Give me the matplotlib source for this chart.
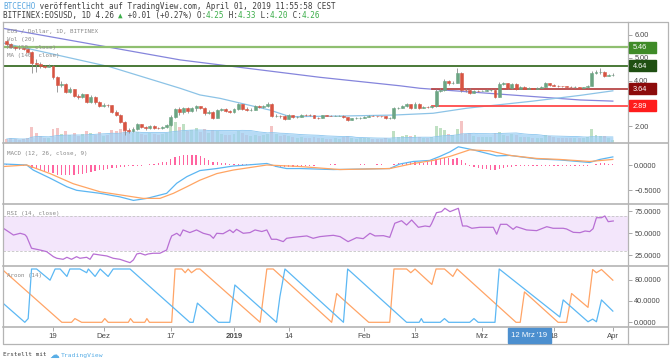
import numpy as np
import pandas as pd
import matplotlib
matplotlib.use('Agg')
import matplotlib.pyplot as plt
import matplotlib.dates as mdates
from matplotlib.patches import Rectangle
from matplotlib.transforms import blended_transform_factory

# ---------------- data ----------------
dates = pd.date_range('2018-11-08', '2019-04-01', freq='D')
open_first = 5.74
closes = [5.59, 5.45, 5.42, 5.40, 5.38, 5.26, 4.75, 4.72, 4.62, 4.61,
          4.64, 4.15, 3.82, 3.86, 3.51, 3.62, 3.33, 3.30, 3.40, 3.07,
          3.30, 3.05, 2.89, 2.93, 2.91, 2.64, 2.49, 2.20, 1.84, 1.78,
          1.90, 2.10, 1.98, 1.92, 2.02, 1.94, 1.93, 1.97, 2.04, 2.42,
          2.74, 2.62, 2.80, 2.68, 2.78, 2.88, 2.80, 2.56, 2.64, 2.38,
          2.72, 2.76, 2.66, 2.63, 2.77, 2.96, 2.76, 2.72, 2.73, 2.90,
          2.84, 2.87, 2.98, 2.46, 2.47, 2.44, 2.32, 2.48, 2.41, 2.42,
          2.51, 2.50, 2.48, 2.38, 2.37, 2.48, 2.47, 2.46, 2.47, 2.47,
          2.40, 2.29, 2.35, 2.36, 2.38, 2.40, 2.47, 2.46, 2.44, 2.43,
          2.36, 2.36, 2.79, 2.81, 2.88, 2.97, 2.80, 2.99, 2.80, 2.85,
          2.84, 2.89, 3.56, 3.60, 4.00, 3.88, 3.91, 4.34, 3.60, 3.58,
          3.47, 3.56, 3.55, 3.56, 3.58, 3.58, 3.30, 3.85, 3.89, 3.66,
          3.85, 3.64, 3.72, 3.64, 3.67, 3.65, 3.67, 3.72, 3.89, 3.81,
          3.78, 3.76, 3.75, 3.73, 3.70, 3.71, 3.69, 3.70, 3.76, 4.34,
          4.36, 4.38, 4.21, 4.25, 4.26]
highs = [5.80, 5.62, 5.50, 5.47, 5.44, 5.42, 5.30, 4.95, 4.80, 4.68,
         4.70, 4.66, 4.18, 3.98, 3.90, 3.70, 3.64, 3.40, 3.45, 3.42,
         3.36, 3.33, 3.10, 3.00, 2.98, 2.94, 2.70, 2.52, 2.25, 1.92,
         1.98, 2.16, 2.12, 2.00, 2.06, 2.04, 1.98, 2.00, 2.08, 2.48,
         2.80, 2.83, 2.86, 2.84, 2.86, 2.93, 2.90, 2.84, 2.70, 2.69,
         2.76, 2.82, 2.80, 2.72, 2.80, 3.02, 2.98, 2.84, 2.80, 2.94,
         2.94, 2.92, 3.08, 3.00, 2.52, 2.50, 2.48, 2.52, 2.50, 2.46,
         2.55, 2.54, 2.53, 2.50, 2.41, 2.51, 2.50, 2.49, 2.50, 2.50,
         2.49, 2.41, 2.38, 2.39, 2.41, 2.43, 2.50, 2.49, 2.47, 2.46,
         2.44, 2.39, 2.84, 2.86, 2.92, 3.02, 2.98, 3.04, 3.00, 2.89,
         2.90, 2.93, 3.62, 3.68, 4.06, 4.02, 3.98, 4.53, 4.36, 3.66,
         3.68, 3.60, 3.60, 3.60, 3.62, 3.62, 3.62, 3.92, 3.94, 3.90,
         3.88, 3.87, 3.76, 3.75, 3.70, 3.69, 3.70, 3.75, 3.94, 3.91,
         3.83, 3.80, 3.78, 3.77, 3.75, 3.74, 3.72, 3.73, 3.79, 4.40,
         4.48, 4.55, 4.42, 4.30, 4.33]
lows = [5.55, 5.40, 5.35, 5.36, 5.33, 5.22, 4.33, 4.38, 4.55, 4.56,
        4.58, 4.08, 3.51, 3.70, 3.45, 3.47, 3.28, 3.18, 3.22, 3.02,
        3.03, 2.98, 2.85, 2.86, 2.85, 2.60, 2.45, 2.15, 1.62, 1.70,
        1.74, 1.86, 1.92, 1.86, 1.88, 1.90, 1.88, 1.90, 1.94, 2.00,
        2.38, 2.50, 2.55, 2.60, 2.62, 2.66, 2.74, 2.50, 2.55, 2.33,
        2.35, 2.66, 2.62, 2.58, 2.60, 2.72, 2.72, 2.68, 2.68, 2.70,
        2.80, 2.82, 2.84, 2.42, 2.40, 2.38, 2.29, 2.30, 2.37, 2.38,
        2.40, 2.46, 2.45, 2.35, 2.33, 2.36, 2.44, 2.43, 2.44, 2.44,
        2.37, 2.25, 2.27, 2.32, 2.34, 2.36, 2.39, 2.43, 2.41, 2.40,
        2.33, 2.32, 2.34, 2.74, 2.78, 2.85, 2.77, 2.80, 2.76, 2.78,
        2.80, 2.82, 2.86, 3.50, 3.55, 3.82, 3.84, 3.88, 3.48, 3.50,
        3.42, 3.45, 3.51, 3.52, 3.53, 3.54, 3.22, 3.28, 3.82, 3.62,
        3.62, 3.60, 3.63, 3.61, 3.62, 3.62, 3.63, 3.66, 3.70, 3.78,
        3.75, 3.73, 3.72, 3.70, 3.68, 3.68, 3.66, 3.67, 3.68, 3.74,
        4.30, 4.30, 4.16, 4.18, 4.20]
volume = [4, 5, 4, 3, 4, 5, 16, 10, 7, 5,
          5, 14, 15, 9, 12, 8, 10, 7, 9, 12,
          10, 8, 11, 7, 8, 13, 12, 14, 20, 12,
          10, 11, 9, 8, 10, 9, 8, 9, 10, 22,
          21, 16, 19, 12, 13, 15, 11, 14, 10, 13,
          12, 9, 8, 8, 9, 12, 10, 8, 7, 8,
          7, 8, 9, 17, 9, 7, 8, 7, 6, 5,
          6, 5, 5, 6, 5, 5, 4, 4, 5, 4,
          6, 7, 5, 4, 5, 5, 5, 4, 4, 4,
          5, 4, 12, 6, 7, 8, 7, 8, 6, 5,
          5, 6, 17, 15, 13, 9, 8, 14, 22, 9,
          10, 7, 6, 6, 6, 6, 10, 11, 8, 7,
          9, 8, 6, 6, 6, 5, 5, 5, 8, 7,
          6, 5, 5, 5, 5, 5, 5, 5, 6, 14,
          8, 7, 7, 5, 3]

ma140_k = [-0.9, 41.2, 74.4, 93.4, 98.2, 136.2, 144]
ma140 = [6.28, 4.90, 4.14, 3.77, 3.66, 3.15, 3.10]
ma50_k = [-0.9, 24.5, 41.2, 45.9, 50.7, 62.5, 67.3, 80, 91.8, 101.3, 109.3, 125, 136.2, 144]
ma50 = [5.64, 4.60, 3.66, 3.37, 3.22, 2.71, 2.42, 2.45, 2.49, 2.57, 2.79, 3.10, 3.35, 3.55]

levels = [5.46, 4.64, 3.64, 2.89]
level_start_k = [None, None, 101, 101]

macd_k = [-0.8, 4.75, 6.3, 10.3, 14.3, 16.6, 22.2, 26.9, 30.1, 33.3, 38.0, 40.4, 42.8, 45.9,
          49.9, 53.8, 61.8, 64.1, 66.5, 69.7, 77.6, 91.0, 93.4, 96.6, 100.5, 102.9, 105.3,
          107.3, 110.8, 116.4, 119.5, 125.9, 131.4, 138.5, 140.9, 144]
macd = [0.02, 0.0, -0.10, -0.26, -0.43, -0.50, -0.56, -0.63, -0.70, -0.66, -0.56, -0.36, -0.23,
        -0.11, -0.07, -0.02, 0.03, -0.03, -0.07, -0.07, -0.09, -0.07, 0.02, 0.07, 0.09, 0.17,
        0.26, 0.36, 0.30, 0.18, 0.19, 0.12, 0.10, 0.05, 0.11, 0.16]
signal_k = [-0.8, 4.75, 10.3, 15.8, 22.2, 26.9, 32.4, 36.4, 39.6, 42.8, 45.9, 49.9, 53.8, 61.8,
            69.7, 79.2, 91.0, 96.6, 101.3, 105.3, 110.0, 114.8, 119.5, 125.9, 131.4, 138.5, 144]
signal = [-0.03, 0.0, -0.17, -0.37, -0.53, -0.59, -0.66, -0.66, -0.56, -0.43, -0.30, -0.17,
          -0.10, 0.0, -0.03, -0.09, -0.07, 0.03, 0.09, 0.17, 0.30, 0.28, 0.19, 0.13, 0.11,
          0.07, 0.11]
hist = [0.01, 0.01, 0.0, 0.0, -0.01, -0.02,
        -0.066, -0.08, -0.10, -0.12, -0.14, -0.165, -0.19, -0.20, -0.20, -0.20,
        -0.19, -0.18, -0.17, -0.165, -0.14, -0.12, -0.10, -0.09, -0.075, -0.066,
        -0.05, -0.04, -0.033, -0.025, -0.02, -0.015, -0.01, 0.0, 0.015, 0.025,
        0.045, 0.055, 0.066, 0.11, 0.15, 0.18, 0.20, 0.20, 0.20, 0.19,
        0.17, 0.13, 0.09, 0.066, 0.05, 0.04, 0.033, 0.025, 0.02, 0.02,
        0.015, 0.015, 0.01, 0.01, 0.005, 0.0, 0.0, -0.02, -0.03, -0.04,
        -0.046, -0.04, -0.035, -0.03, -0.02, -0.015, -0.01, -0.01, -0.005, 0.0,
        0.005, 0.01, 0.01, 0.005, 0.0, -0.005, 0.005, 0.005, 0.01, 0.01,
        0.005, 0.005, 0.01, 0.01, 0.005, 0.005, 0.02, 0.03, 0.033, 0.046,
        0.053, 0.05, 0.046, 0.033, 0.053, 0.086, 0.12, 0.13, 0.14, 0.13,
        0.12, 0.13, 0.09, 0.035, -0.01, -0.03, -0.05, -0.07, -0.086, -0.09,
        -0.10, -0.07, -0.05, -0.04, -0.03, -0.025, -0.02, -0.02, -0.02, -0.02,
        -0.02, -0.02, -0.015, -0.02, -0.02, -0.02, -0.02, -0.02, -0.02, -0.02,
        -0.02, -0.02, -0.02, 0.0, 0.02, 0.03, 0.03, 0.025, 0.02]

rsi_k = [-0.8, 0.4, 1.6, 3.2, 4.3, 4.75, 5.9, 7.9, 9.5, 11.1, 11.9, 13.4, 14.3, 15.4, 16.6, 17.4,
         19.0, 19.8, 20.6, 22.2, 23.8, 25.3, 26.9, 28.5, 29.3, 30.1, 30.9, 31.7, 32.9, 33.6, 34.8,
         36.4, 38.0, 38.8, 39.2, 40.4, 41.2, 41.9, 43.5, 45.1, 46.7, 48.3, 49.1, 49.9, 51.4, 53.0,
         53.8, 54.6, 56.2, 57.8, 59.0, 60.6, 61.8, 62.9, 64.1, 65.7, 66.5, 68.1, 69.7, 71.3, 72.8,
         74.4, 76.0, 77.6, 79.2, 81.1, 83.1, 84.7, 86.3, 87.5, 89.5, 91.0, 92.2, 93.8, 95.0, 96.2,
         97.8, 99.4, 100.5, 100.9, 102.1, 103.3, 104.1, 105.3, 107.3, 108.3, 109.3, 110.5, 112.4,
         115.6, 116.4, 117.3, 118.8, 120.3, 121.1, 123.5, 125.9, 128.3, 129.8, 132.2, 133.0, 134.6,
         136.2, 137.4, 138.5, 139.3, 140.1, 141.3, 142.1, 142.9, 144.1]
rsi = [55.7, 51.9, 48, 50, 48.5, 46.2, 33, 31, 29.1, 23.4, 21.6, 20.4, 22.7, 20.4, 23.4, 21.6,
       22.7, 20.4, 26.5, 25.3, 24.2, 21.6, 20.4, 17.8, 16.6, 19.7, 26.5, 27.3, 25.3, 26.5, 27.3,
       27.3, 31, 42.4, 47, 50, 47, 53.8, 50.8, 53.8, 50, 48, 44.3, 50, 49.5, 53.8, 50.8, 54.5,
       50, 50.8, 53.8, 52, 53.8, 43.2, 43.2, 40.5, 44.3, 45.4, 46.2, 47, 44.3, 46.2, 47, 47.7,
       46.2, 40.5, 45, 43.9, 50, 47, 47.3, 45.4, 61.4, 64.3, 59.4, 65.1, 56.8, 58.3, 57.5, 60.6,
       73.4, 74.6, 78.4, 74.6, 78.4, 58.3, 58.3, 55.7, 56.8, 56.8, 48.9, 60.2, 60.2, 54.5, 57.5,
       53.8, 53, 57.5, 55.7, 55.7, 54.9, 51.1, 50.7, 52.6, 51.9, 55.2, 67.7, 67.7, 69.7, 63.2, 64]

aroon_up_k = [-0.9, 13.1, 15.4, 16.2, 17.8, 22.6, 23.3, 24.1, 28.9, 29.4, 30.1, 32.8, 33.3, 33.9,
              39.2, 40.0, 41.6, 42.4, 43.1, 43.9, 45.1, 45.9, 60.2, 61.8, 63.3, 77.2, 78.4, 79.2,
              86, 91, 92, 95, 96, 97, 101, 102, 104, 105, 106, 107, 121, 122, 123, 131, 133,
              134.2, 138.1, 139.2, 140.1, 141.3, 144]
aroon_up = [98, 0, 0, 7, 0, 0, 7, 0, 0, 7, 0, 0, 7, 0,
            0, 100, 100, 93, 100, 93, 100, 100, 0, 100, 100, 0, 54, 48,
            0, 0, 100, 100, 93, 100, 71, 100, 100, 93, 86, 100, 0, 0, 57, 0, 0,
            54, 28, 99, 93, 99, 79]
aroon_dn_k = [-0.9, 4.3, 5.1, 5.9, 7.1, 10.3, 11.5, 12.7, 14.3, 15, 17.4, 19, 19.4, 21, 22.2,
              24.1, 25.3, 29.3, 43.5, 44.3, 45.3, 50.3, 53, 54.2, 64.1, 64.9, 66.1, 80, 81, 95,
              98, 98.5, 99, 103, 104, 105, 110, 111, 112, 116, 117, 131.4, 132.2, 138.1, 139.2,
              140.1, 141.3, 144]
aroon_dn = [36, 0, 7, 100, 100, 79, 100, 100, 86, 100, 100, 93, 100, 86, 100,
            86, 100, 100, 0, 0, 36, 0, 0, 70, 0, 48, 100, 0, 100, 0,
            0, 7, 0, 0, 7, 0, 0, 7, 0, 0, 100, 10, 42, 1, 6,
            1, 42, 21]

tick_dates = ['2018-11-19', '2018-12-01', '2018-12-17', '2019-01-01', '2019-01-14',
              '2019-02-01', '2019-02-13', '2019-03-01', '2019-03-18', '2019-04-01']
tick_labels = ['19', 'Dez', '17', '2019', '14', 'Feb', '13', 'Mrz', '18', 'Apr']

# ---------------- figure ----------------
W, H = 671, 363
fig = plt.figure(figsize=(W / 100, H / 100), dpi=100)
fig.patch.set_facecolor('white')

def rect(l, t, r, b):
    return [l / W, 1 - b / H, (r - l) / W, (b - t) / H]

L, R = 3, 628
x0 = mdates.date2num(dates[0].to_pydatetime())
xs = x0 + np.arange(len(dates))
xlim = (x0 - 0.88, x0 + 147.6)

SANS = 'Liberation Sans'
MONO = 'DejaVu Sans Mono'
TXT = '#4a4a4a'

ax_vol = fig.add_axes(rect(L, 22, R, 143))
ax_main = fig.add_axes(rect(L, 22, R, 143))
ax_macd = fig.add_axes(rect(L, 143, R, 204))
ax_rsi = fig.add_axes(rect(L, 204, R, 266))
ax_aroon = fig.add_axes(rect(L, 266, R, 327))

for a in [ax_vol, ax_main, ax_macd, ax_rsi, ax_aroon]:
    a.set_xlim(*xlim)
    for s in a.spines.values():
        s.set_visible(False)
    a.yaxis.tick_right()
    a.tick_params(axis='y', direction='out', length=3, width=0.6, color='#999999',
                  pad=1.5, labelsize=5.3, labelcolor=TXT)
    a.tick_params(axis='x', bottom=False, labelbottom=False)
ax_main.patch.set_alpha(0)

# volume
ax_vol.set_ylim(0, 121)
ax_vol.set_yticks([])
opens = np.array([open_first] + closes[:-1])
c_arr = np.array(closes)
up = c_arr >= opens
vcol = np.where(up, '#bfe0c3', '#f4c4c4')
ax_vol.bar(xs, volume, width=0.7, color=vcol, linewidth=0)
vol_ma = pd.Series(volume).rolling(20, min_periods=1).mean().values
ax_vol.fill_between(xs, 0, vol_ma, color='#9fd0f3', alpha=0.75, linewidth=0)
ax_vol.plot(xs, vol_ma, color='#8cc6ef', lw=0.6)

# main price
ax_main.set_ylim(1.271, 6.555)
ax_main.set_yticks([2, 4, 5, 6])
ax_main.set_yticklabels(['2.00', '4.00', '5.00', '6.00'], family=SANS)
ax_main.plot(x0 + np.array(ma140_k), ma140, color='#8585dc', lw=0.9)
ax_main.plot(x0 + np.array(ma50_k), ma50, color='#8cc3e6', lw=0.9)
lvl_colors = ['#8fbf70', '#3c6e28', '#b84848', '#ff4a4a']
lvl_lw = [1.6, 1.3, 1.3, 1.3]
for lv, st, col, lw in zip(levels, level_start_k, lvl_colors, lvl_lw):
    xa = xlim[0] if st is None else x0 + st
    ax_main.plot([xa, xlim[1]], [lv, lv], color=col, lw=lw, zorder=2)
ucol, dcol = '#6ba583', '#d75442'
ax_main.vlines(xs, lows, highs, color='#8c8c8c', lw=0.6, zorder=3)
bcol = np.where(up, ucol, dcol)
ax_main.bar(xs, c_arr - opens, bottom=opens, width=0.7, color=bcol, edgecolor=bcol,
            linewidth=0.4, zorder=4)

# MACD
ax_macd.set_ylim(-0.771, 0.435)
ax_macd.set_yticks([0.0, -0.5])
ax_macd.set_yticklabels(['0.0000', '\u22120.5000'], family=SANS)
ax_macd.bar(xs, hist, width=0.3, color='#ff64a0', linewidth=0)
ax_macd.plot(x0 + np.array(macd_k), macd, color='#5cb6f2', lw=0.9)
ax_macd.plot(x0 + np.array(signal_k), signal, color='#ffa563', lw=0.9)

# RSI
ax_rsi.set_ylim(12.8, 83.3)
ax_rsi.set_yticks([75, 50, 25])
ax_rsi.set_yticklabels(['75.0000', '50.0000', '25.0000'], family=SANS)
ax_rsi.axhspan(30, 70, color='#f3e6fb', linewidth=0)
for lv in (70, 30):
    ax_rsi.axhline(lv, color='#c4c4c4', lw=0.6, ls=(0, (3, 2)))
ax_rsi.plot(x0 + np.array(rsi_k), rsi, color='#b86fd4', lw=0.9)

# Aroon
ax_aroon.set_ylim(-8.8, 105.6)
ax_aroon.set_yticks([80, 40, 0])
ax_aroon.set_yticklabels(['80.0000', '40.0000', '0.0000'], family=SANS)
ax_aroon.plot(x0 + np.array(aroon_up_k), aroon_up, color='#ffa466', lw=0.9)
ax_aroon.plot(x0 + np.array(aroon_dn_k), aroon_dn, color='#5cb8f4', lw=0.9)
tx = [mdates.date2num(pd.Timestamp(d).to_pydatetime()) for d in tick_dates]
ax_aroon.set_xticks(tx)
ax_aroon.tick_params(axis='x', bottom=True, labelbottom=False, direction='out', length=3,
                     width=0.6, color='#999999')
trans = blended_transform_factory(ax_aroon.transData, ax_aroon.transAxes)
for t, lab in zip(tx, tick_labels):
    ax_aroon.text(t, -0.16, lab, transform=trans, ha='center', va='center', fontsize=5.6,
                  family=SANS, color=TXT, fontweight='bold' if lab == '2019' else 'normal',
                  clip_on=False)

# ---------------- overlay (frame, boxes, texts) ----------------
ov = fig.add_axes([0, 0, 1, 1], zorder=10)
ov.set_xlim(0, W)
ov.set_ylim(H, 0)
ov.axis('off')
ov.patch.set_alpha(0)
fc = '#b4b4b4'
ov.plot([L, 668, 668, L, L], [22, 22, 344, 344, 22], color=fc, lw=0.9)
ov.plot([R, R], [22, 344], color=fc, lw=0.9)
for yy in (143, 204, 266, 327):
    ov.plot([L, 668], [yy, yy], color=fc, lw=1.2)

# price boxes
def py(p):
    return 34.7 + (6 - p) * 22.9
box_colors = ['#3f8b28', '#1f4f12', '#8c0b0b', '#ff1c1c']
for lv, bc in zip(levels, box_colors):
    yc = py(lv)
    ov.add_patch(Rectangle((R + 0.5, yc - 5.5), 27, 11, color=bc, zorder=11))
    ov.text(R + 4.5, yc + 0.3, f'{lv:.2f}', color='white', fontsize=5.3, family=SANS,
            va='center', ha='left', zorder=12)

# crosshair date label
ov.add_patch(Rectangle((508, 327.5), 43, 15.5, color='#4c8fcf', zorder=11))
ov.text(529.5, 335.5, "12 Mrz '19", color='white', fontsize=5.6, family=SANS,
        ha='center', va='center', zorder=12)

# header (monospace, piece by piece)
cw = 0.602 * 5.5 * 100 / 72
def mono_line(pieces, x, y, size=5.5):
    n = 0
    for s, col in pieces:
        ov.text(x + n * cw, y, s, color=col, fontsize=size, family=MONO, va='center', ha='left')
        n += len(s)

DARK = '#3f3f3f'
GRN = '#3cae4a'
mono_line([('BTCECHO', '#5aa7e0'),
           (' veröffentlicht auf TradingView.com, April 01, 2019 11:55:58 CEST', DARK)], 3, 6.5)
mono_line([('BITFINEX:EOSUSD, 1D 4.26 ', DARK), ('\u25b2', GRN), (' +0.01 (+0.27%) O:', DARK),
           ('4.25', GRN), (' H:', DARK), ('4.33', GRN), (' L:', DARK), ('4.20', GRN),
           (' C:', DARK), ('4.26', GRN)], 3, 15.5)

LG = '#8a8a8a'
ls = 4.2
for yy, s in [(31.7, 'EOS / Dollar, 1D, BITFINEX'), (39.6, 'Vol (20)'),
              (47.8, 'MA (50, close)'), (56.0, 'MA (140, close)'),
              (153.3, 'MACD (12, 26, close, 9)'), (213.3, 'RSI (14, close)'),
              (275.0, 'Aroon (14)')]:
    ov.text(7.3, yy, s, color=LG, fontsize=ls, family=MONO, va='center', ha='left')

# footer
ov.text(3, 355, 'Erstellt mit', color=DARK, fontsize=4.3, family=MONO, va='center', ha='left')
ov.text(49, 354.5, '\u2601', color='#59aee6', fontsize=7, family='DejaVu Sans',
        va='center', ha='left')
ov.text(60.5, 355, 'TradingView', color='#59aee6', fontsize=4.6, family=MONO,
        va='center', ha='left')

fig.savefig('out.png', dpi=100, facecolor='white')
